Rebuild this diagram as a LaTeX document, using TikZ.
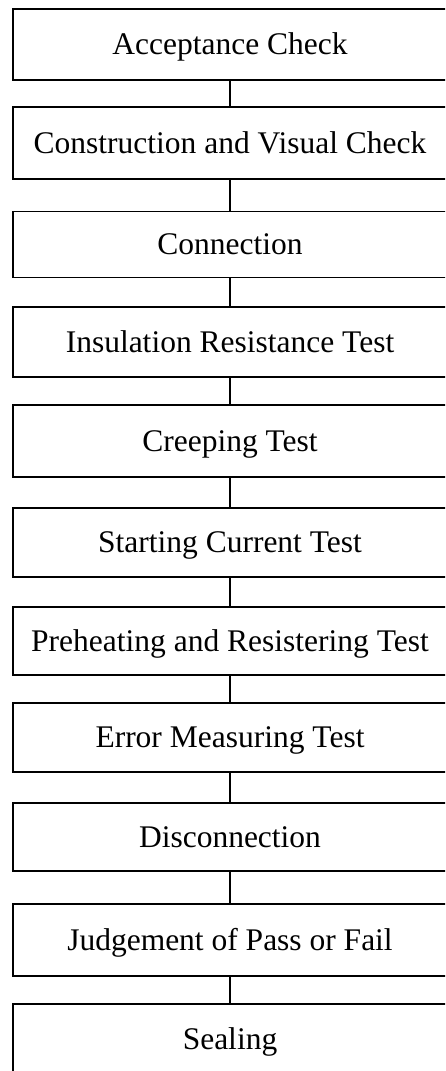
\documentclass[tikz,border=0pt]{standalone}
\usepackage{fontspec}
\setmainfont{Liberation Serif}
\begin{document}
\begin{tikzpicture}[x=1pt,y=-1pt,
  stepbox/.style={draw=black, line width=1.5pt, minimum width=434pt,
    inner sep=0pt, text height=20pt, text depth=0pt,
    font=\fontsize{31.5}{36}\selectfont, text=black},
  link/.style={draw=black, line width=1.3pt}]
  \useasboundingbox (0,0) rectangle (445,1071);
  \begin{scope}
  \clip (0,0) rectangle (445,1071);
  \node[stepbox, minimum height=71pt] (s1)  at (230,44.5)  {Acceptance Check};
  \node[stepbox, minimum height=72pt] (s2)  at (230,143)   {Construction and Visual Check};
  \node[stepbox, minimum height=66pt] (s3)  at (230,244.5) {Connection};
  \node[stepbox, minimum height=70pt] (s4)  at (230,342)   {Insulation Resistance Test};
  \node[stepbox, minimum height=72pt] (s5)  at (230,441)   {Creeping Test};
  \node[stepbox, minimum height=69pt] (s6)  at (230,542.5) {Starting Current Test};
  \node[stepbox, minimum height=68pt] (s7)  at (230,641)   {Preheating and Resistering Test};
  \node[stepbox, minimum height=69pt] (s8)  at (230,737.5) {Error Measuring Test};
  \node[stepbox, minimum height=68pt] (s9)  at (230,837)   {Disconnection};
  \node[stepbox, minimum height=72pt] (s10) at (230,940)   {Judgement of Pass or Fail};
  \node[stepbox, minimum height=70pt] (s11) at (230,1039)  {Sealing};
  \end{scope}
  \foreach \a/\b in {s1/s2,s2/s3,s3/s4,s4/s5,s5/s6,s6/s7,s7/s8,s8/s9,s9/s10,s10/s11}
    \draw[link] (\a.south) -- (\b.north);
\end{tikzpicture}
\end{document}
